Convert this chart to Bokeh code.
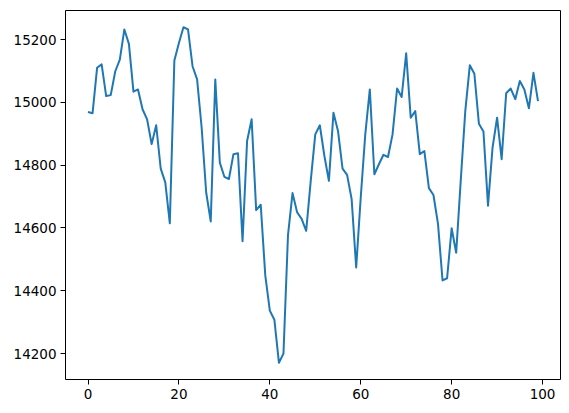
from bokeh.plotting import figure
from bokeh.models import Range1d, FixedTicker
from bokeh.embed import file_html
from bokeh.resources import INLINE

xs = list(range(100))
values = [
    14969, 14965, 15110, 15121, 15020, 15023, 15099, 15136, 15232, 15186,
    15034, 15041, 14978, 14946, 14867, 14927, 14789, 14745, 14615, 15133,
    15189, 15239, 15232, 15115, 15073, 14920, 14713, 14621, 15073, 14808,
    14763, 14756, 14835, 14838, 14558, 14877, 14946, 14657, 14674, 14449,
    14337, 14308, 14171, 14200, 14578, 14711, 14650, 14629, 14591, 14750,
    14898, 14927, 14830, 14750, 14967, 14909, 14789, 14769, 14692, 14474,
    14697, 14898, 15041, 14771, 14803, 14833, 14826, 14898, 15044, 15017,
    15156, 14951, 14972, 14835, 14845, 14727, 14705, 14613, 14433, 14440,
    14599, 14521, 14750, 14972, 15118, 15091, 14932, 14907, 14671, 14856,
    14951, 14819, 15029, 15044, 15010, 15068, 15041, 14981, 15094, 15004,
]
x_ticks = [0, 20, 40, 60, 80, 100]
y_ticks = [14200, 14400, 14600, 14800, 15000, 15200]

xmin, xmax = min(xs), max(xs)
ymin, ymax = min(values), max(values)
xm = (xmax - xmin) * 0.05
ym = (ymax - ymin) * 0.05

p = figure(width=561, height=405, output_backend="svg", toolbar_location=None,
           x_range=Range1d(xmin - xm, xmax + xm), y_range=Range1d(ymin - ym, ymax + ym),
           min_border_left=65, min_border_right=1, min_border_top=10, min_border_bottom=26)
p.background_fill_color = "white"
p.border_fill_color = "white"
p.outline_line_color = "black"
p.outline_line_width = 1
p.outline_line_alpha = 1
p.grid.visible = False

p.line(xs, values, line_color="#1f77b4", line_width=2, line_join="round", line_cap="butt")

for ax in (p.xaxis, p.yaxis):
    ax.axis_line_color = None
    ax.major_tick_in = 0
    ax.major_tick_out = 5
    ax.major_tick_line_color = "black"
    ax.minor_tick_line_color = None
    ax.major_label_text_font = "DejaVu Sans"
    ax.major_label_text_font_size = "13.5px"
    ax.major_label_text_color = "black"
    ax.major_label_standoff = 4
p.xaxis.ticker = FixedTicker(ticks=x_ticks)
p.yaxis.ticker = FixedTicker(ticks=y_ticks)

open("out.html", "w").write(file_html(p, INLINE))
